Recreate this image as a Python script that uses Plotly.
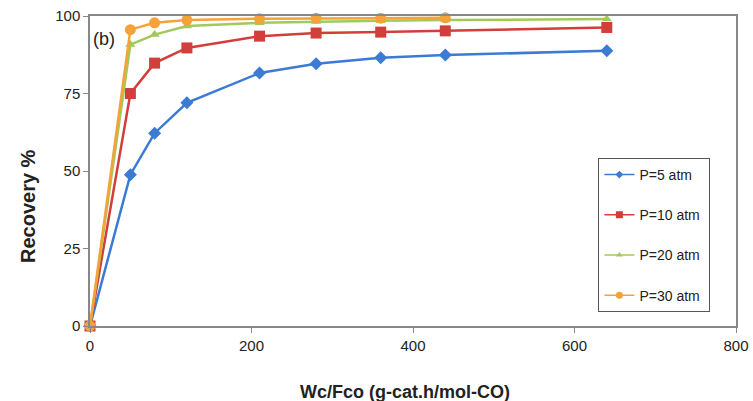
import plotly.graph_objects as go

x_vals = [0, 50, 80, 120, 210, 280, 360, 440, 640]
x_vals_30 = [0, 50, 80, 120, 210, 280, 360, 440]
p5 = [0, 48.8, 62.2, 72.0, 81.6, 84.6, 86.5, 87.4, 88.8]
p10 = [0, 75.0, 84.8, 89.7, 93.5, 94.5, 94.8, 95.2, 96.3]
p20 = [0, 90.8, 94.0, 96.8, 97.8, 98.2, 98.5, 98.7, 99.0]
p30 = [0, 95.6, 97.8, 98.7, 99.1, 99.3, 99.3, 99.4]

names = ["P=5 atm", "P=10 atm", "P=20 atm", "P=30 atm"]
colors = ["#3B7BD4", "#D23E3A", "#A3C95C", "#F5A23A"]
symbols = ["diamond", "square", "triangle-up", "circle"]
sizes = [10, 11, 9, 11]
legend_sizes = [6, 7, 6, 7]

fig = go.Figure()
series = [(x_vals, p5), (x_vals, p10), (x_vals, p20), (x_vals_30, p30)]
for i, ((xs, ys), n, c, s, sz) in enumerate(zip(series, names, colors, symbols, sizes)):
    fig.add_trace(go.Scatter(
        x=xs, y=ys, name=n, mode="lines+markers",
        line=dict(color=c, width=2.5),
        marker=dict(symbol=s, size=sz, color=c),
        cliponaxis=False, showlegend=False, legendgroup=f"g{i}",
    ))
# legend-only entries with smaller markers and thinner lines
for i, (n, c, s, lsz) in enumerate(zip(names, colors, symbols, legend_sizes)):
    fig.add_trace(go.Scatter(
        x=[None], y=[None], name=n + "\u00a0", mode="lines+markers",
        line=dict(color=c, width=1.5),
        marker=dict(symbol=s, size=lsz, color=c),
        showlegend=True, legendgroup=f"g{i}",
    ))

fig.update_layout(
    width=753, height=401,
    margin=dict(l=90, r=17, t=16, b=75),
    paper_bgcolor="white", plot_bgcolor="white",
    font=dict(family="Liberation Sans, Arial, sans-serif", color="#222", size=15),
    showlegend=True,
    legend=dict(
        x=0.787, y=0.542, xanchor="left", yanchor="top",
        bordercolor="#555", borderwidth=1, bgcolor="white",
        font=dict(size=14, color="#222"),
        traceorder="grouped", tracegroupgap=19,
    ),
    xaxis=dict(
        range=[0, 800], tickvals=[0, 200, 400, 600, 800],
        showgrid=False, zeroline=False, automargin=False,
        showline=True, linecolor="#888", linewidth=1.5, mirror=True,
        ticks="outside", ticklen=5, tickcolor="#888",
        tickfont=dict(size=15),
    ),
    yaxis=dict(
        range=[0, 100], tickvals=[0, 25, 50, 75, 100],
        showgrid=False, zeroline=False, automargin=False,
        showline=True, linecolor="#888", linewidth=1.5, mirror=True,
        ticks="outside", ticklen=5, tickcolor="#888",
        tickfont=dict(size=15),
    ),
    annotations=[
        dict(x=0.002, y=0.925, xref="paper", yref="paper", xanchor="left", yanchor="middle",
             text="(b)", showarrow=False, font=dict(size=18, color="#222")),
        dict(x=0.487, y=-0.213, xref="paper", yref="paper", xanchor="center", yanchor="middle",
             text="<b>Wc/Fco (g-cat.h/mol-CO)</b>", showarrow=False,
             font=dict(size=18, color="#222")),
        dict(x=-0.096, y=0.387, xref="paper", yref="paper", xanchor="center", yanchor="middle",
             text="<b>Recovery %</b>", showarrow=False, textangle=-90,
             font=dict(size=20, color="#222")),
    ],
)

fig.write_html("out.html")
